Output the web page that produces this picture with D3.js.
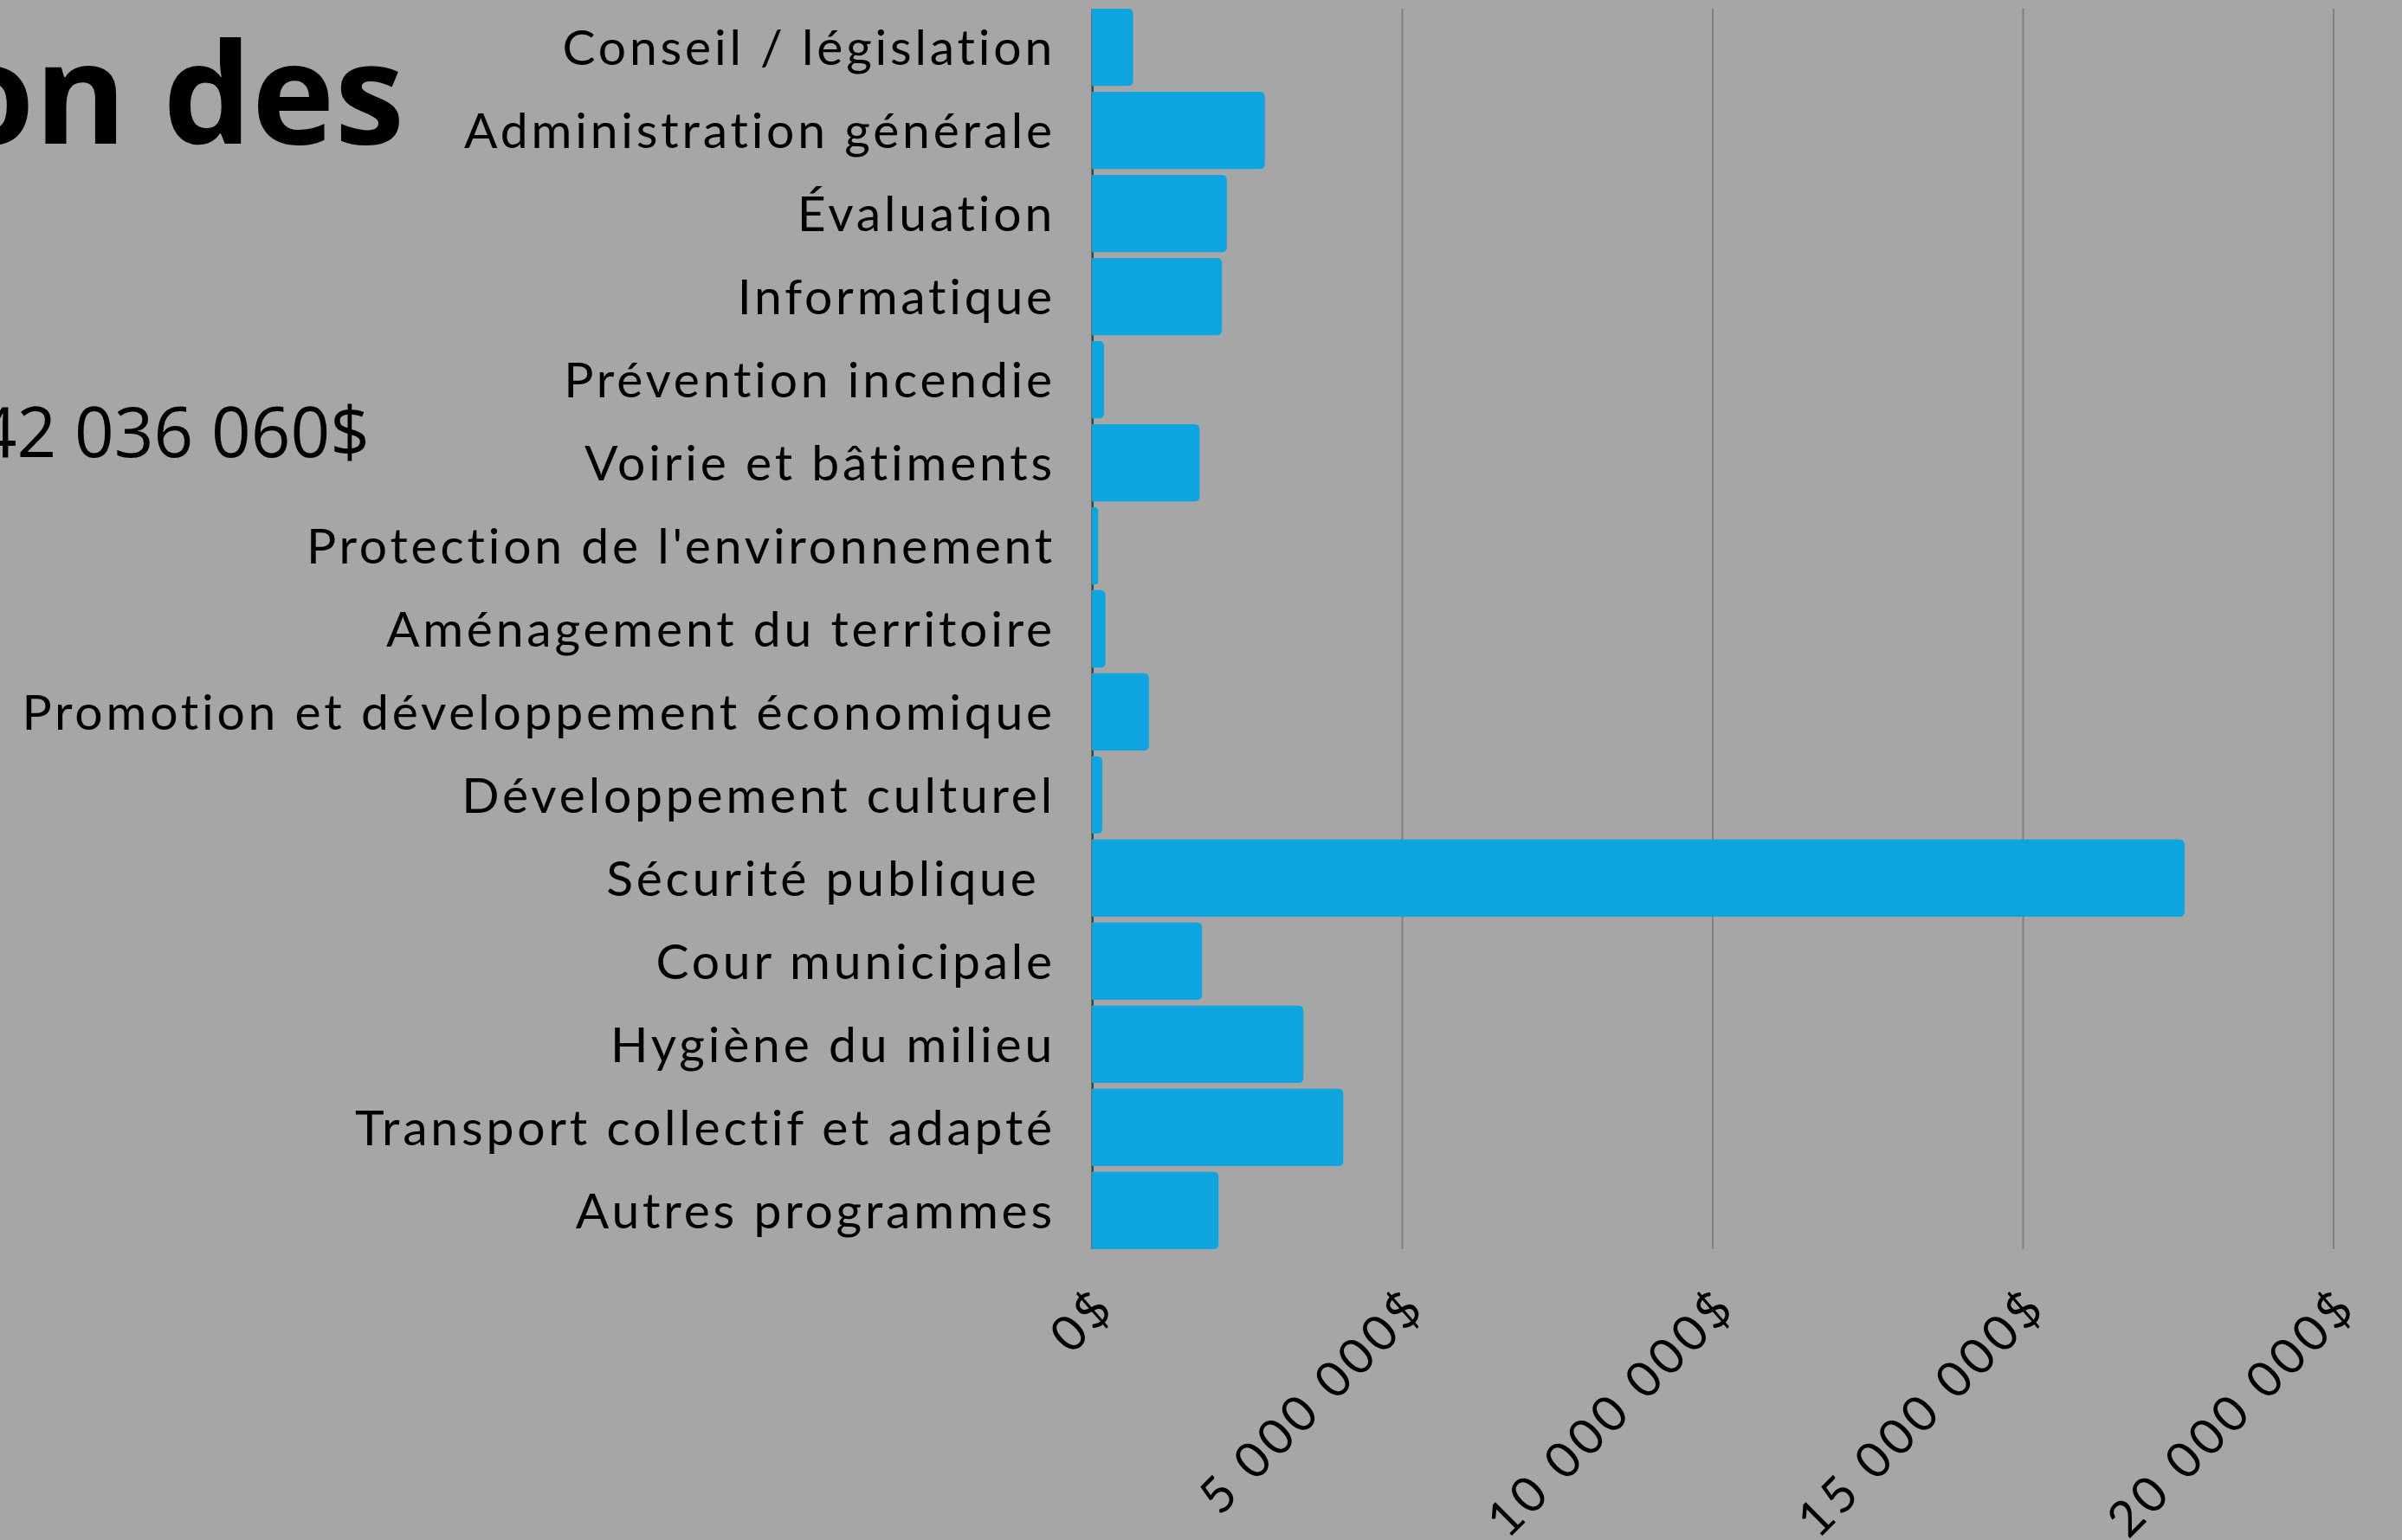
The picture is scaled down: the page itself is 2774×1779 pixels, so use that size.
<!DOCTYPE html>
<html>
<head>
<meta charset="utf-8">
<script src="https://cdn.jsdelivr.net/npm/d3@7"></script>
<style>
  html, body { margin: 0; padding: 0; background: #a6a6a6; overflow: hidden; }
  svg { display: block; }
</style>
</head>
<body>
<div id="chart"></div>
<script>
// categories, top to bottom
var categories = [
    "Conseil / législation",
    "Administration générale",
    "Évaluation",
    "Informatique",
    "Prévention incendie",
    "Voirie et bâtiments",
    "Protection de l'environnement",
    "Aménagement du territoire",
    "Promotion et développement économique",
    "Développement culturel",
    "Sécurité publique ",
    "Cour municipale",
    "Hygiène du milieu",
    "Transport collectif et adapté",
    "Autres programmes"
];

// montants ($)
var amounts = [
    663000, 2786000, 2173000, 2094000, 195000,
    1736000, 100000, 218000, 919000, 167000,
    17600000, 1775000, 3407000, 4049000, 2040000
];

var xTicks = [0, 5000000, 10000000, 15000000, 20000000];
var titleText = "Répartition des";
var totalText = "Total : 42 036 060$";

var W = 2774, H = 1779;
var margin = {top: 10, left: 1261};
var plotW = 1434, plotH = 1433;

var fr = d3.formatLocale({decimal: ",", thousands: " ", grouping: [3], currency: ["", "$"]});
var fmt = function(v){ return fr.format(",.0f")(v) + "$"; };

var svg = d3.select("#chart").append("svg")
    .attr("width", W)
    .attr("height", H);

svg.append("rect")
    .attr("width", W).attr("height", H)
    .attr("fill", "#a6a6a6");

// title block, cut off on the left like the original
svg.append("text")
    .attr("x", 467).attr("y", 166)
    .attr("text-anchor", "end")
    .style("font-family", "'Open Sans', sans-serif")
    .style("font-weight", 700)
    .style("font-size", "162px")
    .attr("fill", "#000")
    .text(titleText);

svg.append("text")
    .attr("x", 427).attr("y", 528)
    .attr("text-anchor", "end")
    .style("font-family", "'Open Sans', sans-serif")
    .style("font-size", "80px")
    .attr("fill", "#000")
    .text(totalText);

var g = svg.append("g")
    .attr("transform", "translate(" + margin.left + "," + margin.top + ")");

var x = d3.scaleLinear()
    .domain([0, 20000000])
    .range([0, plotW]);

var y = d3.scaleBand()
    .domain(categories)
    .range([0, plotH])
    .paddingInner(0.07)
    .paddingOuter(0);

// vertical gridlines
g.selectAll(".grid")
    .data(xTicks.slice(1))
    .enter()
    .append("line")
    .attr("x1", function(d){ return x(d); })
    .attr("x2", function(d){ return x(d); })
    .attr("y1", 0)
    .attr("y2", plotH)
    .attr("stroke", "#7f7f7f")
    .attr("stroke-width", 2);

// axis line at 0
g.append("line")
    .attr("x1", 0).attr("x2", 0)
    .attr("y1", 0).attr("y2", plotH)
    .attr("stroke", "#6f6f6f")
    .attr("stroke-width", 2);

// small dark ticks between bars
g.selectAll(".sep")
    .data(categories.slice(1))
    .enter()
    .append("line")
    .attr("x1", 1).attr("x2", 1)
    .attr("y1", function(d){ return y(d) - (y.step() - y.bandwidth()); })
    .attr("y2", function(d){ return y(d); })
    .attr("stroke", "#404040")
    .attr("stroke-width", 2);

// bars, rounded on the right end
function barPath(x0, y0, w, h, r) {
    r = Math.min(r, w / 2, h / 2);
    return "M" + x0 + "," + y0 +
        "H" + (x0 + w - r) +
        "Q" + (x0 + w) + "," + y0 + " " + (x0 + w) + "," + (y0 + r) +
        "V" + (y0 + h - r) +
        "Q" + (x0 + w) + "," + (y0 + h) + " " + (x0 + w - r) + "," + (y0 + h) +
        "H" + x0 + "Z";
}

g.selectAll(".bar")
    .data(categories)
    .enter()
    .append("path")
    .attr("d", function(d, i){
        return barPath(x(0), y(d), x(amounts[i]) - x(0), y.bandwidth(), 6);
    })
    .attr("fill", "#0ea4df");

// category labels
g.selectAll(".cat")
    .data(categories)
    .enter()
    .append("text")
    .attr("x", -42)
    .attr("y", function(d){ return y(d) + y.bandwidth() / 2; })
    .attr("dy", "0.36em")
    .attr("text-anchor", "end")
    .attr("xml:space", "preserve")
    .style("white-space", "pre")
    .style("font-family", "Lato, sans-serif")
    .style("font-size", "57px")
    .style("letter-spacing", "3.8px")
    .attr("fill", "#000")
    .text(function(d){ return d; });

// rotated x tick labels
g.selectAll(".xt")
    .data(xTicks)
    .enter()
    .append("text")
    .attr("transform", function(d){
        return "translate(" + (x(d) + 29) + "," + (plotH + 70) + ")rotate(-45)";
    })
    .attr("text-anchor", "end")
    .style("font-family", "Lato, sans-serif")
    .style("font-size", "57px")
    .style("letter-spacing", "4.5px")
    .attr("fill", "#000")
    .text(function(d){ return fmt(d); });
</script>
</body>
</html>
